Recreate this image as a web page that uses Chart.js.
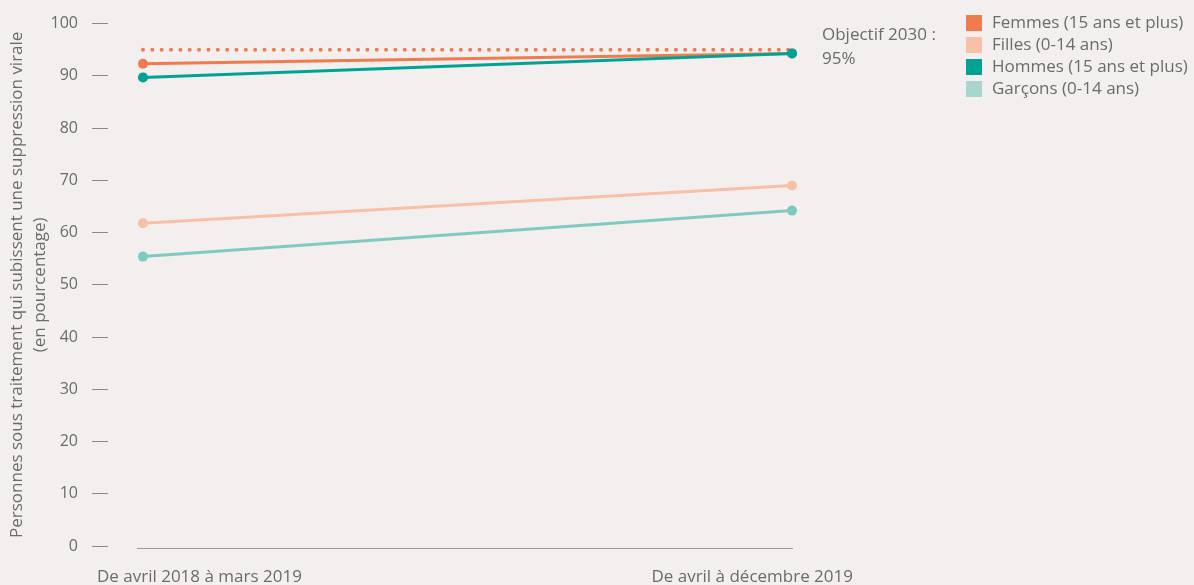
<!DOCTYPE html>
<html><head><meta charset="utf-8">
<script src="https://cdn.jsdelivr.net/npm/chart.js@4.4.1/dist/chart.umd.min.js"></script>
<style>
html,body{margin:0;padding:0;background:#f3efee;}
#wrap{width:1194px;height:585px;position:relative;}
</style></head>
<body><div id="wrap"><canvas id="c" width="1194" height="585"></canvas></div>
<script>
const categories = ["De avril 2018 à mars 2019", "De avril à décembre 2019"];
const femmes = [92.3, 94.3];
const filles = [61.8, 69.0];
const hommes = [89.7, 94.3];
const garcons = [55.4, 64.2];
const objectif = [95, 95];
const seriesLabels = ["Femmes (15 ans et plus)", "Filles (0-14 ans)", "Hommes (15 ans et plus)", "Garçons (0-14 ans)"];
const objectifText = ["Objectif 2030 :", "95%"];
const yTitle = ["Personnes sous traitement qui subissent une suppression virale", "(en pourcentage)"];

const FONT = "'Open Sans', Lato, sans-serif";
const TXT = "#6b6b6b";
const toPts = arr => arr.map((v, i) => ({x: i, y: v}));

const colors = {
  femmes: "#ef7b4f", filles: "#f8c0a6", hommes: "#00a393", garcons: "#7fcac0"
};
const legendColors = ["#ef7b4f", "#f8c0a6", "#00a393", "#a8d6cf"];

const extras = {
  id: "extras",
  beforeDraw(chart) {
    const ctx = chart.ctx;
    ctx.save();
    ctx.fillStyle = "#f3efee";
    ctx.fillRect(0, 0, chart.width, chart.height);
    ctx.restore();
  },
  afterDraw(chart) {
    const ctx = chart.ctx;
    const x = chart.scales.x, y = chart.scales.y;
    ctx.save();
    // baseline
    ctx.strokeStyle = "#9a9a9a";
    ctx.lineWidth = 1;
    ctx.beginPath();
    ctx.moveTo(x.getPixelForValue(0) - 6, y.getPixelForValue(0) + 2.5);
    ctx.lineTo(x.getPixelForValue(1) + 1, y.getPixelForValue(0) + 2.5);
    ctx.stroke();
    // category labels
    ctx.font = "17px " + FONT;
    ctx.fillStyle = TXT;
    ctx.textBaseline = "middle";
    ctx.textAlign = "left";
    ctx.fillText(categories[0], 97, 577);
    ctx.textAlign = "right";
    ctx.fillText(categories[1], 853, 577);
    // objective text
    ctx.textAlign = "left";
    ctx.fillText(objectifText[0], 822, 35);
    ctx.fillText(objectifText[1], 822, 59);
    // legend
    seriesLabels.forEach((lab, i) => {
      const top = 15 + i * 22;
      ctx.fillStyle = legendColors[i];
      ctx.fillRect(966, top, 16, 16);
      ctx.fillStyle = TXT;
      ctx.textAlign = "left";
      ctx.fillText(lab, 992, top + 8);
    });
    ctx.restore();
  }
};

const lineDs = (label, data, color, order) => ({
  label, data: toPts(data), borderColor: color, backgroundColor: color,
  borderWidth: 3, pointRadius: 5, pointHoverRadius: 5, pointBackgroundColor: color,
  pointBorderWidth: 0, tension: 0, clip: false, order
});

new Chart(document.getElementById("c"), {
  type: "line",
  data: {
    datasets: [
      {label: "Objectif", data: toPts(objectif), borderColor: "#ef7b4f", borderWidth: 4,
       borderDash: [0, 9.35], borderCapStyle: "round", pointRadius: 0, clip: false, order: 5},
      lineDs(seriesLabels[1], filles, colors.filles, 4),
      lineDs(seriesLabels[3], garcons, colors.garcons, 3),
      lineDs(seriesLabels[0], femmes, colors.femmes, 2),
      lineDs(seriesLabels[2], hommes, colors.hommes, 1)
    ]
  },
  options: {
    responsive: false,
    animation: false,
    layout: {padding: {left: 0, right: 394, top: 23, bottom: 39}},
    plugins: {legend: {display: false}, tooltip: {enabled: false}},
    scales: {
      x: {type: "linear", min: -0.0539, max: 1.0123, display: false},
      y: {
        min: 0, max: 100,
        afterFit: s => { s.width = 108; },
        border: {display: false},
        grid: {drawOnChartArea: false, drawTicks: true, tickLength: 16, color: "#8a8a8a", lineWidth: 1},
        ticks: {stepSize: 10, padding: 14, color: TXT, font: {family: FONT, size: 16}},
        title: {display: true, text: yTitle, color: TXT, font: {family: FONT, size: 17, lineHeight: 1.35},
                padding: {top: 5.5, bottom: 0}}
      }
    }
  },
  plugins: [extras]
});
</script></body></html>
